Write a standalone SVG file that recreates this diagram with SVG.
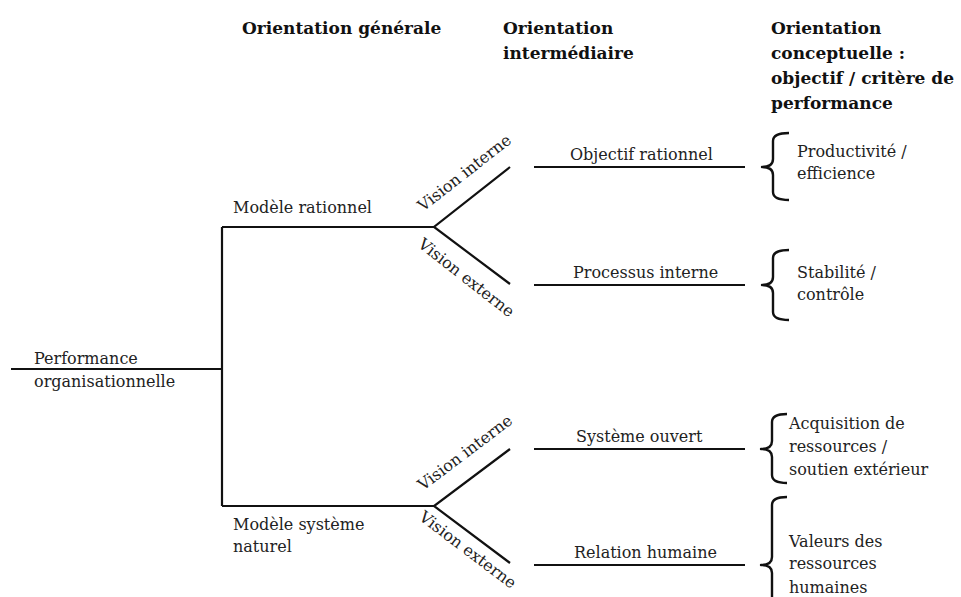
<svg xmlns="http://www.w3.org/2000/svg" width="961" height="597" viewBox="0 0 961 597">
<style>
.t{font-family:"DejaVu Serif","Liberation Serif",serif;font-size:16px;fill:#222}
.h{font-family:"DejaVu Serif","Liberation Serif",serif;font-size:17px;font-weight:bold;fill:#111}
.ln{stroke:#111;stroke-width:2.2;fill:none;stroke-linecap:butt}
.br{stroke:#111;stroke-width:2.4;fill:none;stroke-linejoin:round}
</style>
<rect width="961" height="597" fill="#fff"/>
<g id="headers">
<text class="h" x="242" y="34">Orientation générale</text>
<text class="h" x="503" y="34">Orientation</text>
<text class="h" x="503" y="59">intermédiaire</text>
<text class="h" x="771" y="34">Orientation</text>
<text class="h" x="771" y="59">conceptuelle :</text>
<text class="h" x="771" y="84">objectif / critère de</text>
<text class="h" x="771" y="109">performance</text>
</g>
<g id="connectors">
<path class="ln" d="M11,369 H222 M222,227 V506 M222,227 H434 M222,506 H434"/>
<path class="ln" d="M510,167 L434,227 L510,284"/>
<path class="ln" d="M510,449 L434,506 L510,563"/>
<path class="ln" d="M534,167 H745 M534,285 H745 M534,449 H745 M534,565 H745"/>
</g>
<g id="n-performance">
<text class="t" x="34" y="364">Performance</text>
<text class="t" x="34" y="387">organisationnelle</text>
</g>
<g id="n-modele-rationnel">
<text class="t" x="233" y="213">Modèle rationnel</text>
</g>
<g id="n-modele-naturel">
<text class="t" x="233" y="530">Modèle système</text>
<text class="t" x="233" y="552">naturel</text>
</g>
<g id="n-vision-1">
<text class="t" transform="translate(423,212) rotate(-38)">Vision interne</text>
<text class="t" transform="translate(417,246) rotate(38)">Vision externe</text>
</g>
<g id="n-vision-2">
<text class="t" transform="translate(423,491) rotate(-37)">Vision interne</text>
<text class="t" transform="translate(418,519) rotate(37)">Vision externe</text>
</g>
<g id="n-objectif-rationnel"><text class="t" x="570" y="160">Objectif rationnel</text></g>
<g id="n-processus-interne"><text class="t" x="573" y="278">Processus interne</text></g>
<g id="n-systeme-ouvert"><text class="t" x="576" y="442">Système ouvert</text></g>
<g id="n-relation-humaine"><text class="t" x="574" y="558">Relation humaine</text></g>
<g id="n-productivite">
<path class="br" d="M789,133 Q773,133 773,141 V159 Q773,167 762,167 Q773,167 773,175 V192 Q773,200 789,200"/>
<text class="t" x="797" y="157">Productivité /</text>
<text class="t" x="797" y="179">efficience</text>
</g>
<g id="n-stabilite">
<path class="br" d="M789,250 Q773,250 773,258 V277 Q773,285 762,285 Q773,285 773,293 V312 Q773,320 789,320"/>
<text class="t" x="797" y="278">Stabilité /</text>
<text class="t" x="797" y="300">contrôle</text>
</g>
<g id="n-acquisition">
<path class="br" d="M787,414 Q772,414 772,422 V441 Q772,449 761,449 Q772,449 772,457 V475 Q772,483 787,483"/>
<text class="t" x="789" y="429">Acquisition de</text>
<text class="t" x="789" y="452">ressources /</text>
<text class="t" x="789" y="475">soutien extérieur</text>
</g>
<g id="n-valeurs">
<path class="br" d="M787,497 Q772,497 772,505 V557 Q772,565 761,565 Q772,565 772,573 V625 Q772,633 787,633"/>
<text class="t" x="789" y="547">Valeurs des</text>
<text class="t" x="789" y="569">ressources</text>
<text class="t" x="789" y="593">humaines</text>
</g>
</svg>
